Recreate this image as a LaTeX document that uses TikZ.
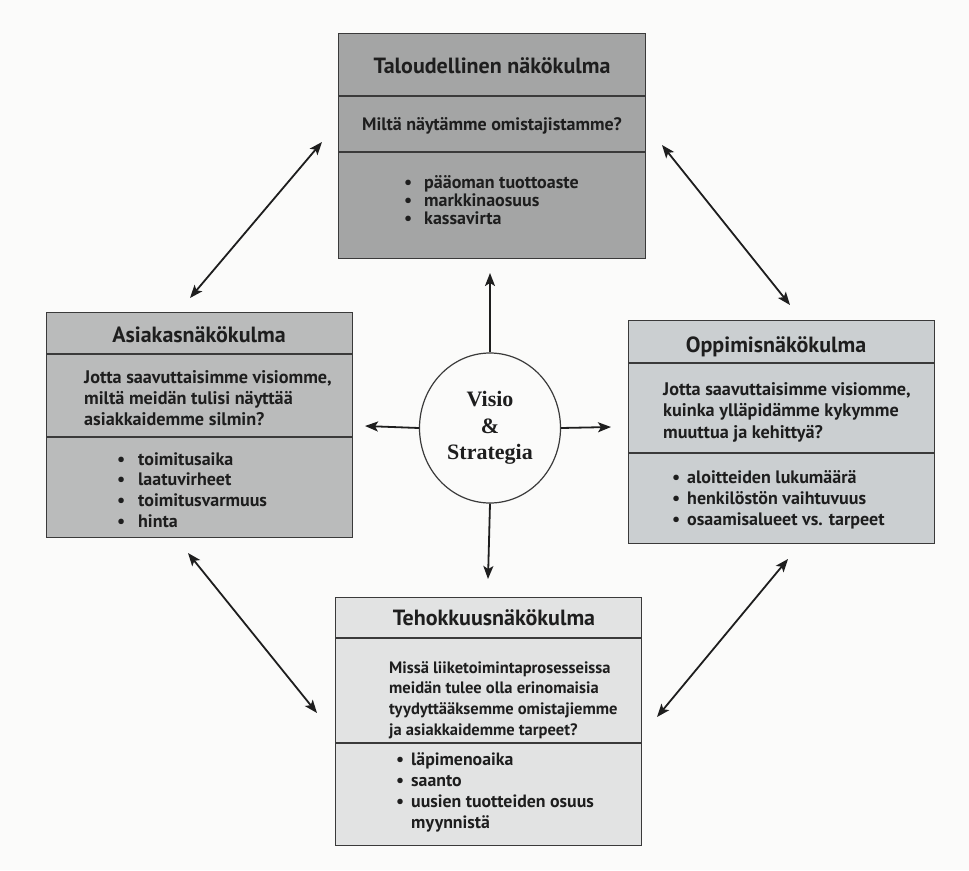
\documentclass[tikz,border=0pt]{standalone}
\usepackage{fontspec}
\setmainfont{PT Sans}
\newfontfamily\circfont{Liberation Serif}
\usetikzlibrary{arrows.meta,shapes.geometric}
\definecolor{paper}{HTML}{FBFBFA}
\definecolor{ink}{HTML}{1E1E1E}
\definecolor{edge}{HTML}{3A3A3A}
\definecolor{finfill}{HTML}{A4A5A5}
\definecolor{custfill}{HTML}{BABBBB}
\definecolor{learnfill}{HTML}{CBCFD1}
\definecolor{procfill}{HTML}{E2E3E3}
\newcommand{\bul}[1][18pt]{\makebox[#1][l]{\textbullet}}
\begin{document}
\begin{tikzpicture}[x=1pt,y=-1pt,
  box/.style={draw=edge, line width=1.4pt, anchor=north west, minimum width=306pt, inner sep=0pt},
  divider/.style={draw=edge, line width=1.2pt},
  ttl/.style={anchor=base, inner sep=0pt, text=ink, font=\fontsize{22}{26}\selectfont\bfseries},
  txt/.style={anchor=base west, inner sep=0pt, text=ink, font=\fontsize{18}{21}\selectfont\bfseries},
  ctxt/.style={anchor=base, inner sep=0pt, text=ink, font=\fontsize{18}{21}\selectfont\bfseries},
  arr/.style={draw=ink, line width=1.8pt, -{Stealth[length=13pt,width=10pt,inset=3pt]}},
  darr/.style={draw=ink, line width=1.8pt, {Stealth[length=13pt,width=10pt,inset=3pt]}-{Stealth[length=13pt,width=10pt,inset=3pt]}}
]
\fill[paper] (0,0) rectangle (969,870);
\useasboundingbox (0,0) rectangle (969,870);

% Taloudellinen (top)
\node[box, fill=finfill, minimum width=307pt, minimum height=225pt] (fin) at (338,33) {};
\draw[divider] ([yshift=-63pt]fin.north west) -- ([yshift=-63pt]fin.north east);
\draw[divider] ([yshift=-119pt]fin.north west) -- ([yshift=-119pt]fin.north east);
\node[ttl] (finT) at (492,73) {Taloudellinen näkökulma};
\node[ctxt] (finQ) at (492,130) {Miltä näytämme omistajistamme?};
\node[txt] (finL) at (404,188) {\parbox[t]{300pt}{\fontsize{18}{18.3}\selectfont\raggedright
  \bul[20pt]pääoman tuottoaste\\ \bul[20pt]markkinaosuus\\ \bul[20pt]kassavirta}};

% Asiakas (left)
\node[box, fill=custfill, minimum height=225pt] (cust) at (46,312) {};
\draw[divider] ([yshift=-42pt]cust.north west) -- ([yshift=-42pt]cust.north east);
\draw[divider] ([yshift=-125pt]cust.north west) -- ([yshift=-125pt]cust.north east);
\node[ttl] (custT) at (199,342) {Asiakasnäkökulma};
\node[txt] (custQ) at (84,383) {\parbox[t]{320pt}{\fontsize{18.2}{21}\selectfont\raggedright
  Jotta saavuttaisimme visiomme,\\ miltä meidän tulisi näyttää\\ asiakkaidemme silmin?}};
\node[txt] (custL) at (117,465) {\parbox[t]{300pt}{\fontsize{18}{20.8}\selectfont\raggedright
  \bul[21pt]toimitusaika\\ \bul[21pt]laatuvirheet\\ \bul[21pt]toimitusvarmuus\\ \bul[21pt]hinta}};

% Oppimis (right)
\node[box, fill=learnfill, minimum height=223pt] (learn) at (628,320) {};
\draw[divider] ([yshift=-43pt]learn.north west) -- ([yshift=-43pt]learn.north east);
\draw[divider] ([yshift=-133pt]learn.north west) -- ([yshift=-133pt]learn.north east);
\node[ttl] (learnT) at (776,352) {Oppimisnäkökulma};
\node[txt] (learnQ) at (663,395) {\parbox[t]{320pt}{\fontsize{18.2}{21.5}\selectfont\raggedright
  Jotta saavuttaisimme visiomme,\\ kuinka ylläpidämme kykymme\\ muuttua ja kehittyä?}};
\node[txt] (learnL) at (672,483) {\parbox[t]{300pt}{\fontsize{18}{21}\selectfont\raggedright
  \bul[15pt]aloitteiden lukumäärä\\ \bul[15pt]henkilöstön vaihtuvuus\\ \bul[15pt]osaamisalueet vs. tarpeet}};

% Tehokkuus (bottom)
\node[box, fill=procfill, minimum height=248pt] (proc) at (335,597) {};
\draw[divider] ([yshift=-41pt]proc.north west) -- ([yshift=-41pt]proc.north east);
\draw[divider] ([yshift=-146pt]proc.north west) -- ([yshift=-146pt]proc.north east);
\node[ttl] (procT) at (494,625) {Tehokkuusnäkökulma};
\node[txt] (procQ) at (389,673) {\parbox[t]{300pt}{\fontsize{16.5}{20.7}\selectfont\raggedright
  Missä liiketoimintaprosesseissa\\ meidän tulee olla erinomaisia\\ tyydyttääksemme omistajiemme\\ ja asiakkaidemme tarpeet?}};
\node[txt] (procL) at (396,765) {\parbox[t]{300pt}{\fontsize{17.8}{21}\selectfont\raggedright
  \bul[15pt]läpimenoaika\\ \bul[15pt]saanto\\ \bul[15pt]uusien tuotteiden osuus\\ \hspace*{15pt}myynnistä}};

% Visio & Strategia
\node[ellipse, draw=edge, line width=1.2pt, fill=paper, minimum width=141pt, minimum height=150pt, inner sep=0pt,
  align=center, text=ink, font=\circfont\fontsize{22}{26.5}\selectfont\bfseries] (vs) at (490,428) {Visio\\ \&\\ Strategia};

\coordinate (upTip) at (490,273);
\coordinate (downTip) at (488,579);
\coordinate (leftTip) at (365,426);
\coordinate (rightTip) at (611,427);
\draw[arr] (vs.north) -- (upTip);
\draw[arr] (vs.south) -- (downTip);
\draw[arr] (vs.west) -- (leftTip);
\draw[arr] (vs.east) -- (rightTip);

\coordinate (tlA) at (190,298);
\coordinate (tlB) at (322,142);
\coordinate (trA) at (662,145);
\coordinate (trB) at (790,305);
\coordinate (blA) at (188,553);
\coordinate (blB) at (317,713);
\coordinate (brA) at (788,559);
\coordinate (brB) at (657,717);
\draw[darr] (tlA) -- (tlB);
\draw[darr] (trA) -- (trB);
\draw[darr] (blA) -- (blB);
\draw[darr] (brA) -- (brB);
\end{tikzpicture}
\end{document}
